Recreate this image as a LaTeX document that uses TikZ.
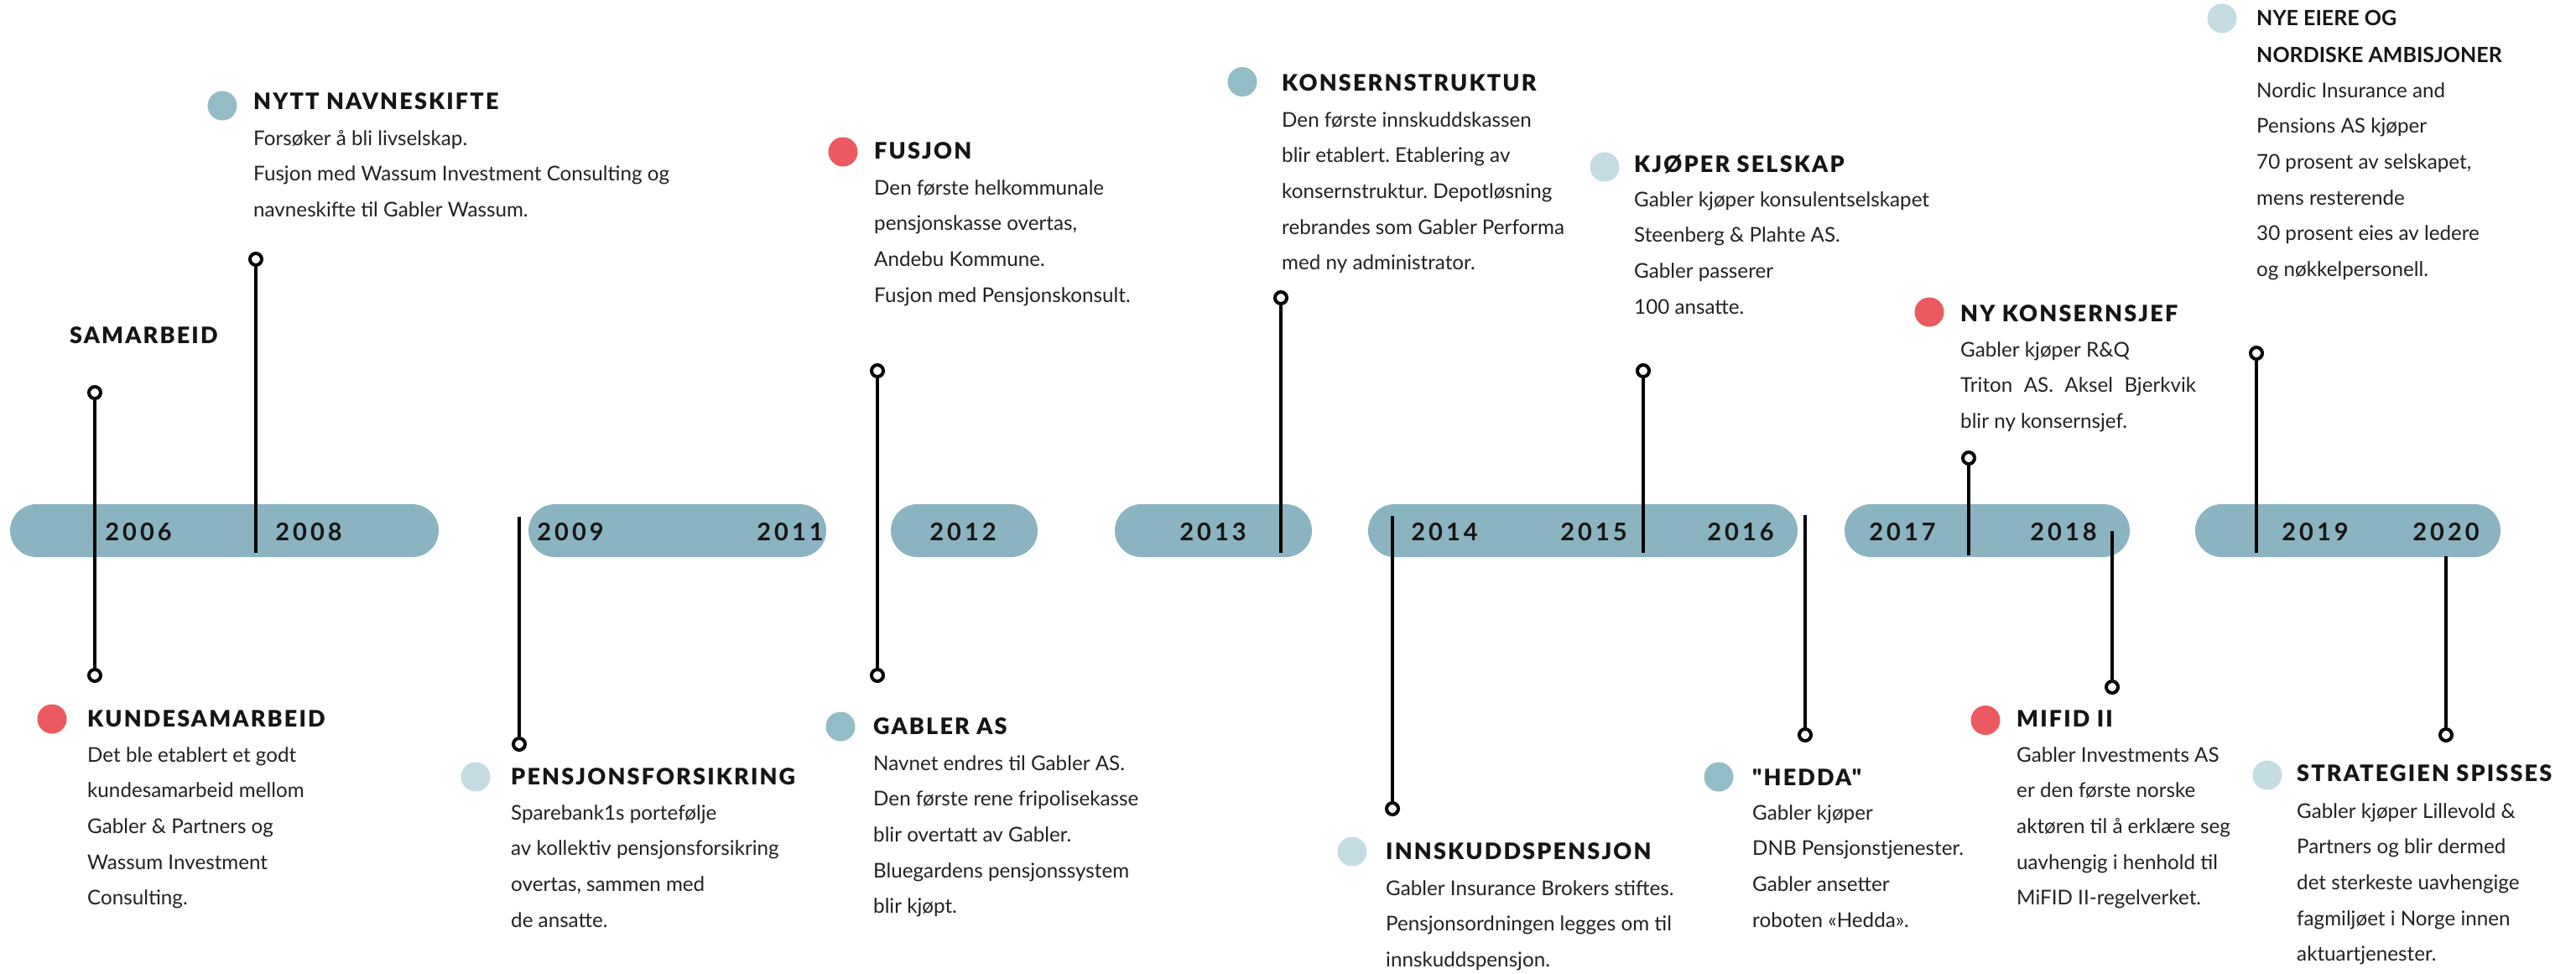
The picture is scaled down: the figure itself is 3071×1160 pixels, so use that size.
\documentclass[tikz,border=0pt]{standalone}
\usepackage{fontspec}
\setmainfont{Lato}
\newfontfamily\headfont[LetterSpace=8]{Lato Black}
\newfontfamily\plainhead{Lato}
\newfontfamily\yearfont[LetterSpace=14]{Lato}
\definecolor{barc}{HTML}{8AB4C1}
\definecolor{dotmid}{HTML}{93BDC6}
\definecolor{dotlight}{HTML}{C5DDE2}
\definecolor{dotred}{HTML}{EB5A5E}
\definecolor{inkc}{HTML}{151515}
\definecolor{bodyc}{HTML}{222222}
\frenchspacing
\tikzset{
  bar/.style={fill=barc, draw=none, rounded corners=31.5pt, minimum height=63pt, inner sep=0pt},
  yr/.style={font=\yearfont\bfseries\fontsize{29}{29}\selectfont, text=inkc, anchor=base, inner sep=0pt},
  ring/.style={circle, draw=black, line width=4pt, fill=white, minimum size=14pt, inner sep=0pt},
  stem/.style={line width=4pt, draw=black},
  dot/.style={circle, minimum size=35pt, inner sep=0pt, draw=none},
  head/.style={font=\headfont\fontsize{27}{27}\selectfont, anchor=base west, inner sep=0pt, text=inkc},
  headplain/.style={font=\plainhead\bfseries\fontsize{25}{44}\selectfont, anchor=base west, inner sep=0pt, text=inkc},
  body/.style={font=\frenchspacing\fontsize{24.2}{42.7}\selectfont, anchor=base west, inner sep=0pt, text=bodyc},
}
\newcommand\lines[1]{\begin{tabular}[t]{@{}l@{}}#1\end{tabular}}
\begin{document}
\frenchspacing
\begin{tikzpicture}[x=1pt,y=-1pt]
\useasboundingbox (0,0) rectangle (3071,1160);
\fill[white] (0,0) rectangle (3071,1160);

% bars
\node[bar, minimum width=511pt] (barA) at (267.5,632.5) {};
\node[bar, minimum width=355pt] (barB) at (807.5,632.5) {};
\node[bar, minimum width=175pt] (barC) at (1149.5,632.5) {};
\node[bar, minimum width=235pt] (barD) at (1446.5,632.5) {};
\node[bar, minimum width=512pt] (barE) at (1887,632.5) {};
\node[bar, minimum width=340pt] (barF) at (2369,632.5) {};
\node[bar, minimum width=364pt] (barG) at (2799,632.5) {};

% years
\node[yr] (y2006) at (165,644.5) {2006};
\node[yr] (y2008) at (368,644.5) {2008};
\node[yr] (y2009) at (680,644.5) {2009};
\node[yr] (y2011) at (942,644.5) {2011};
\node[yr] (y2012) at (1148,644.5) {2012};
\node[yr] (y2013) at (1446,644.5) {2013};
\node[yr] (y2014) at (1722,644.5) {2014};
\node[yr] (y2015) at (1900,644.5) {2015};
\node[yr] (y2016) at (2075,644.5) {2016};
\node[yr] (y2017) at (2268,644.5) {2017};
\node[yr] (y2018) at (2460,644.5) {2018};
\node[yr] (y2019) at (2760,644.5) {2019};
\node[yr] (y2020) at (2916,644.5) {2020};

% connector ends
\coordinate (e2) at (305,659);
\coordinate (e3) at (619,616);
\coordinate (e5) at (1527,659);
\coordinate (e6) at (1660,615);
\coordinate (e7) at (1959,659);
\coordinate (e8) at (2152,614);
\coordinate (e9) at (2347,662);
\coordinate (e10) at (2518,633);
\coordinate (e11) at (2690,659);
\coordinate (e12) at (2916,663);

% rings
\node[ring] (r1a) at (113,468) {};
\node[ring] (r1b) at (113,805) {};
\node[ring] (r2) at (305,309) {};
\node[ring] (r3) at (619,887) {};
\node[ring] (r4a) at (1046,442) {};
\node[ring] (r4b) at (1046,805) {};
\node[ring] (r5) at (1527,355) {};
\node[ring] (r6) at (1660,964) {};
\node[ring] (r7) at (1959,442) {};
\node[ring] (r8) at (2152,876) {};
\node[ring] (r9) at (2347,546) {};
\node[ring] (r10) at (2518,819) {};
\node[ring] (r11) at (2690,421) {};
\node[ring] (r12) at (2916,876) {};

% stems
\draw[stem] (r1a) -- (r1b);
\draw[stem] (r2) -- (e2);
\draw[stem] (e3) -- (r3);
\draw[stem] (r4a) -- (r4b);
\draw[stem] (r5) -- (e5);
\draw[stem] (e6) -- (r6);
\draw[stem] (r7) -- (e7);
\draw[stem] (e8) -- (r8);
\draw[stem] (r9) -- (e9);
\draw[stem] (e10) -- (r10);
\draw[stem] (r11) -- (e11);
\draw[stem] (e12) -- (r12);

% SAMARBEID
\node[head] (hSam) at (83,409) {SAMARBEID};

% NYTT NAVNESKIFTE
\node[dot, fill=dotmid] (dNytt) at (265,126) {};
\node[head] (hNytt) at (302,130) {NYTT NAVNESKIFTE};
\node[body] (bNytt) at (302,173) {\lines{Forsøker å bli livselskap.\\Fusjon med Wassum Investment Consulting og\\navneskifte til Gabler Wassum.}};

% KUNDESAMARBEID
\node[dot, fill=dotred] (dKunde) at (62,857) {};
\node[head] (hKunde) at (104,866) {KUNDESAMARBEID};
\node[body] (bKunde) at (104,908) {\lines{Det ble etablert et godt\\kundesamarbeid mellom\\Gabler \& Partners og\\Wassum Investment\\Consulting.}};

% PENSJONSFORSIKRING
\node[dot, fill=dotlight] (dPens) at (567,926) {};
\node[head] (hPens) at (609,935) {PENSJONSFORSIKRING};
\node[body] (bPens) at (609,977) {\lines{Sparebank1s portefølje\\av kollektiv pensjonsforsikring\\overtas, sammen med\\de ansatte.}};

% FUSJON
\node[dot, fill=dotred] (dFus) at (1005,181) {};
\node[head] (hFus) at (1042,189) {FUSJON};
\node[body] (bFus) at (1042,232) {\lines{Den første helkommunale\\pensjonskasse overtas,\\Andebu Kommune.\\Fusjon med Pensjonskonsult.}};

% KONSERNSTRUKTUR
\node[dot, fill=dotmid] (dKons) at (1481,97.5) {};
\node[head] (hKons) at (1528,108) {KONSERNSTRUKTUR};
\node[body] (bKons) at (1528,151) {\lines{Den første innskuddskassen\\blir etablert. Etablering av\\konsernstruktur. Depotløsning\\rebrandes som Gabler Performa\\med ny administrator.}};

% GABLER AS
\node[dot, fill=dotmid] (dGab) at (1002,866) {};
\node[head] (hGab) at (1041,875) {GABLER AS};
\node[body] (bGab) at (1041,918) {\lines{Navnet endres til Gabler AS.\\Den første rene fripolisekasse\\blir overtatt av Gabler.\\Bluegardens pensjonssystem\\blir kjøpt.}};

% INNSKUDDSPENSJON
\node[dot, fill=dotlight] (dInn) at (1612,1015) {};
\node[head] (hInn) at (1652,1024) {INNSKUDDSPENSJON};
\node[body] (bInn) at (1652,1067) {\lines{Gabler Insurance Brokers stiftes.\\Pensjonsordningen legges om til\\innskuddspensjon.}};

% KJØPER SELSKAP
\node[dot, fill=dotlight] (dKjo) at (1913,199) {};
\node[head] (hKjo) at (1948,205) {KJØPER SELSKAP};
\node[body] (bKjo) at (1948,246) {\lines{Gabler kjøper konsulentselskapet\\Steenberg \& Plahte AS.\\Gabler passerer\\100 ansatte.}};

% NY KONSERNSJEF
\node[dot, fill=dotred] (dNyk) at (2300,372) {};
\node[head] (hNyk) at (2337,383) {NY KONSERNSJEF};
\node[body] (bNyk) at (2337,425) {\lines{Gabler kjøper R\&Q\\Triton\hspace{0.3em} AS.\hspace{0.3em} Aksel\hspace{0.3em} Bjerkvik\\blir ny konsernsjef.}};

% NYE EIERE OG NORDISKE AMBISJONER
\node[dot, fill=dotlight] (dNye) at (2649,22) {};
\node[headplain] (hNye) at (2690,30) {\lines{NYE EIERE OG\\NORDISKE AMBISJONER}};
\node[body] (bNye) at (2690,116) {\lines{Nordic Insurance and\\Pensions AS kjøper\\70 prosent av selskapet,\\mens resterende\\30 prosent eies av ledere\\og nøkkelpersonell.}};

% "HEDDA"
\node[dot, fill=dotmid] (dHed) at (2049,926) {};
\node[head] (hHed) at (2089,936) {"HEDDA"};
\node[body] (bHed) at (2089,977) {\lines{Gabler kjøper\\DNB Pensjonstjenester.\\Gabler ansetter\\roboten «Hedda».}};

% MIFID II
\node[dot, fill=dotred] (dMif) at (2367,858.5) {};
\node[head] (hMif) at (2404,866) {MIFID II};
\node[body] (bMif) at (2404,908) {\lines{Gabler Investments AS\\er den første norske\\aktøren til å erklære seg\\uavhengig i henhold til\\MiFID II-regelverket.}};

% STRATEGIEN SPISSES
\node[dot, fill=dotlight] (dStr) at (2703,924) {};
\node[head] (hStr) at (2738,931) {STRATEGIEN SPISSES};
\node[body] (bStr) at (2738,975) {\lines{Gabler kjøper Lillevold \&\\Partners og blir dermed\\det sterkeste uavhengige\\fagmiljøet i Norge innen\\aktuartjenester.}};
\end{tikzpicture}
\end{document}
